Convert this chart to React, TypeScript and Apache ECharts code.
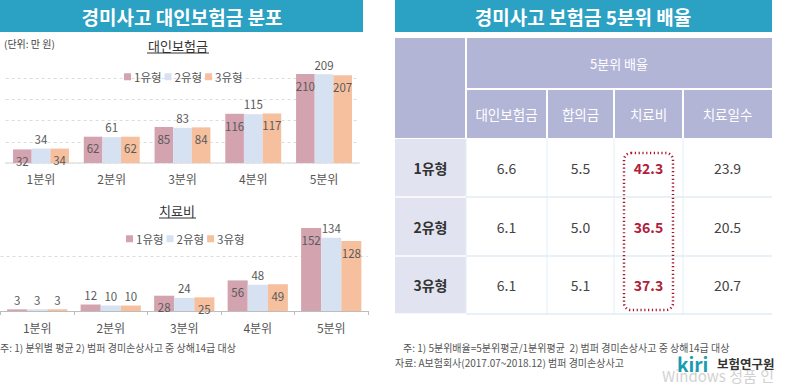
import React, { useEffect, useRef } from "react";
import * as echarts from "echarts";

const quintiles = ["1분위", "2분위", "3분위", "4분위", "5분위"];
const typeNames = ["1유형", "2유형", "3유형"];
const claimType1 = [32, 62, 85, 116, 210];
const claimType2 = [34, 61, 83, 115, 209];
const claimType3 = [34, 62, 84, 117, 207];
const medType1 = [3, 12, 28, 56, 152];
const medType2 = [3, 10, 24, 48, 134];
const medType3 = [3, 10, 25, 49, 128];

const tableColumns = ["대인보험금", "합의금", "치료비", "치료일수"];
const tableRowNames = ["1유형", "2유형", "3유형"];
const ratioType1 = [6.6, 5.5, 42.3, 23.9];
const ratioType2 = [6.1, 5.0, 36.5, 20.5];
const ratioType3 = [6.1, 5.1, 37.3, 20.7];

const FONT = '"Noto Sans CJK KR", "Noto Sans", sans-serif';
const COLORS = ["#d3a3af", "#d6e1f2", "#f6c09f"];
const TEAL = "#2ba1c4";
const HEAD = "#b3b5d7";
const SIDE = "#e2e3f0";

export default function App() {
  const ref = useRef<HTMLDivElement>(null);
  useEffect(() => {
    document.body.style.margin = "0";
    const chart = echarts.init(ref.current!, null, { renderer: "svg" });

    const claimSets = [claimType1, claimType2, claimType3];
    const medSets = [medType1, medType2, medType3];

    const mkSeries = (sets: number[][], xi: number, scale: number) =>
      sets.map((vals, i) => ({
        name: typeNames[i],
        type: "bar",
        xAxisIndex: xi,
        yAxisIndex: xi,
        barGap: "0%",
        barCategoryGap: xi === 0 ? "21%" : "18%",
        itemStyle: { color: COLORS[i] },
        data: vals.map((v) => {
          const pos = i === 1 || v * scale < 12 ? "top" : "insideTop";
          return {
            value: v,
            label: { position: pos, distance: pos === "top" ? 4 : 6 },
          };
        }),
        label: {
          show: true,
          fontSize: 11.5,
          color: "#5a5a5a",
          fontFamily: FONT,
        },
      }));

    const tX = [395, 466, 547, 614, 683, 772];
    const hY = [38, 89, 138];
    const rY = [138, 197, 256, 314];
    const rows = [ratioType1, ratioType2, ratioType3];
    const g: any[] = [];
    g.push({ type: "rect", shape: { x: 0, y: 0, width: 363, height: 32 }, style: { fill: TEAL } });
    g.push({ type: "rect", shape: { x: 395, y: 0, width: 377, height: 32 }, style: { fill: TEAL } });
    g.push({
      type: "text", x: 182, y: 16,
      style: { text: "경미사고 대인보험금 분포", fill: "#fff", font: `bold 19px ${FONT}`, align: "center", verticalAlign: "middle" },
    });
    g.push({
      type: "text", x: 583, y: 16,
      style: { text: "경미사고 보험금 5분위 배율", fill: "#fff", font: `bold 19px ${FONT}`, align: "center", verticalAlign: "middle" },
    });
    g.push({
      type: "text", x: 4, y: 43,
      style: { text: "(단위: 만 원)", fill: "#444", font: `10px ${FONT}`, align: "left", verticalAlign: "middle" },
    });
    g.push({
      type: "text", x: 178, y: 45,
      style: { text: "대인보험금", fill: "#333", font: `13px ${FONT}`, align: "center", verticalAlign: "middle" },
    });
    g.push({ type: "line", shape: { x1: 147, y1: 53, x2: 209, y2: 53 }, style: { stroke: "#333", lineWidth: 1 } });
    g.push({
      type: "text", x: 177, y: 210,
      style: { text: "치료비", fill: "#333", font: `13px ${FONT}`, align: "center", verticalAlign: "middle" },
    });
    g.push({ type: "line", shape: { x1: 159, y1: 218, x2: 196, y2: 218 }, style: { stroke: "#333", lineWidth: 1 } });
    g.push({
      type: "text", x: 0, y: 347,
      style: { text: "주: 1) 분위별 평균 2) 범퍼 경미손상사고 중 상해14급 대상", fill: "#555", font: `10px ${FONT}`, align: "left", verticalAlign: "middle" },
    });

    g.push({ type: "rect", shape: { x: tX[0], y: hY[0], width: tX[5] - tX[0], height: hY[2] - hY[0] }, style: { fill: HEAD } });
    g.push({ type: "line", shape: { x1: tX[1], y1: hY[0], x2: tX[1], y2: hY[2] }, style: { stroke: "#fff", lineWidth: 2 } });
    g.push({ type: "line", shape: { x1: tX[1], y1: hY[1], x2: tX[5], y2: hY[1] }, style: { stroke: "#fff", lineWidth: 2 } });
    for (let c = 2; c <= 4; c++) {
      g.push({ type: "line", shape: { x1: tX[c], y1: hY[1], x2: tX[c], y2: hY[2] }, style: { stroke: "#fff", lineWidth: 2 } });
    }
    g.push({
      type: "text", x: (tX[1] + tX[5]) / 2, y: (hY[0] + hY[1]) / 2,
      style: { text: "5분위 배율", fill: "#fff", font: `13px ${FONT}`, align: "center", verticalAlign: "middle" },
    });
    tableColumns.forEach((col, c) => {
      g.push({
        type: "text", x: (tX[c + 1] + tX[c + 2]) / 2, y: (hY[1] + hY[2]) / 2,
        style: { text: col, fill: "#fff", font: `13.5px ${FONT}`, align: "center", verticalAlign: "middle" },
      });
    });
    g.push({ type: "rect", shape: { x: tX[0], y: rY[0] + 1, width: tX[1] - tX[0], height: rY[3] - rY[0] - 1 }, style: { fill: SIDE } });
    for (let c = 1; c <= 4; c++) {
      g.push({ type: "line", shape: { x1: tX[c], y1: rY[0], x2: tX[c], y2: rY[3] }, style: { stroke: "#e3eef5", lineWidth: 1 } });
    }
    for (let r = 1; r <= 3; r++) {
      g.push({ type: "line", shape: { x1: tX[1], y1: rY[r], x2: tX[5], y2: rY[r] }, style: { stroke: "#e0ecf4", lineWidth: 1.5 } });
      g.push({ type: "line", shape: { x1: tX[0], y1: rY[r], x2: tX[1], y2: rY[r] }, style: { stroke: "#fff", lineWidth: 1.5 } });
    }
    rows.forEach((vals, r) => {
      const cy = (rY[r] + rY[r + 1]) / 2;
      g.push({
        type: "text", x: (tX[0] + tX[1]) / 2, y: cy,
        style: { text: tableRowNames[r], fill: "#333", font: `bold 14px ${FONT}`, align: "center", verticalAlign: "middle" },
      });
      vals.forEach((v, c) => {
        const hi = c === 2;
        g.push({
          type: "text", x: (tX[c + 1] + tX[c + 2]) / 2, y: cy,
          style: {
            text: v.toFixed(1),
            fill: hi ? "#b0203a" : "#444",
            font: `${hi ? "bold " : ""}14px ${FONT}`,
            align: "center", verticalAlign: "middle",
          },
        });
      });
    });
    g.push({
      type: "rect", shape: { x: 624, y: 153, width: 49, height: 157, r: 7 },
      style: { fill: "none", stroke: "#a3182c", lineWidth: 2.5, lineDash: [1.2, 2.6] },
    });
    g.push({
      type: "text", x: 403, y: 347,
      style: { text: "주: 1) 5분위배율=5분위평균/1분위평균  2) 범퍼 경미손상사고 중 상해14급 대상", fill: "#555", font: `10px ${FONT}`, align: "left", verticalAlign: "middle" },
    });
    g.push({
      type: "text", x: 395, y: 362,
      style: { text: "자료: A보험회사(2017.07~2018.12) 범퍼 경미손상사고", fill: "#555", font: `10px ${FONT}`, align: "left", verticalAlign: "middle" },
    });
    g.push({
      type: "text", x: 662, y: 375,
      style: { text: "Windows 정품 인", fill: "#d2d2d2", font: `15px ${FONT}`, align: "left", verticalAlign: "middle" },
    });
    g.push({
      type: "text", x: 677, y: 363,
      style: { text: "kiri", fill: "#1a9bb3", font: `bold 19px ${FONT}`, align: "left", verticalAlign: "middle" },
    });
    g.push({
      type: "text", x: 717, y: 363,
      style: { text: "보험연구원", fill: "#333", font: `bold 12.5px ${FONT}`, align: "left", verticalAlign: "middle" },
    });

    const legendBase = {
      data: typeNames, itemWidth: 7, itemHeight: 7, itemGap: 3, icon: "rect",
      textStyle: { fontSize: 11.5, color: "#555", fontFamily: FONT, padding: [0, 0, 0, -2] },
    };

    const option: any = {
      animation: false,
      backgroundColor: "#fff",
      textStyle: { fontFamily: FONT },
      legend: [
        { ...legendBase, left: 119, top: 66 },
        { ...legendBase, left: 121, top: 228 },
      ],
      grid: [
        { left: 5.6, right: 440.6, top: 69.7, bottom: 385 - 163 },
        { left: 0.5, right: 432, top: 223.6, bottom: 385 - 311 },
      ],
      xAxis: [
        {
          type: "category", gridIndex: 0, data: quintiles,
          axisLine: { lineStyle: { color: "#e2e2e2", width: 1.5 } }, axisTick: { show: false },
          axisLabel: { fontSize: 12, color: "#555", margin: 9, fontFamily: FONT },
        },
        {
          type: "category", gridIndex: 1, data: quintiles,
          axisLine: { lineStyle: { color: "#bdbdbd", width: 1.2 } },
          axisTick: { show: true, length: 4, lineStyle: { color: "#bdbdbd" } },
          axisLabel: { fontSize: 12, color: "#555", margin: 10, fontFamily: FONT },
        },
      ],
      yAxis: [
        {
          type: "value", gridIndex: 0, min: 0, max: 220, interval: 50,
          axisLabel: { show: false }, axisLine: { show: false }, axisTick: { show: false },
          splitLine: { show: true, showMaxLine: false, lineStyle: { color: "#dcdcdc", type: [3, 3] } },
        },
        {
          type: "value", gridIndex: 1, min: 0, max: 160, interval: 100,
          axisLabel: { show: false }, axisLine: { show: false }, axisTick: { show: false },
          splitLine: { show: true, showMaxLine: false, lineStyle: { color: "#dcdcdc", type: [3, 3] } },
        },
      ],
      series: [...mkSeries(claimSets, 0, 0.424), ...mkSeries(medSets, 1, 0.546)],
      graphic: g,
    };
    chart.setOption(option);
    return () => chart.dispose();
  }, []);
  return <div ref={ref} style={{ width: 800, height: 385 }} />;
}
